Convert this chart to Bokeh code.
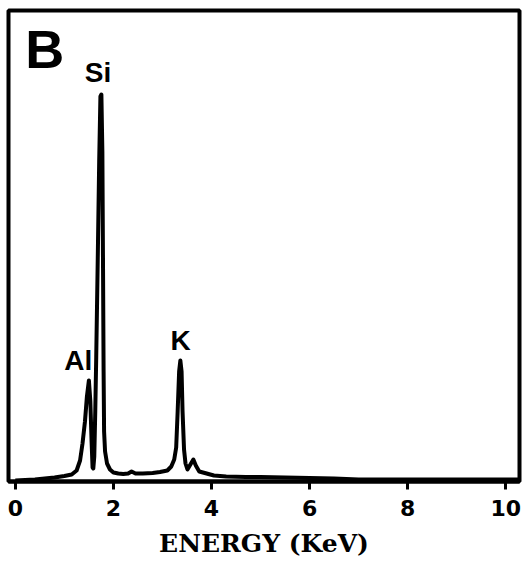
from bokeh.plotting import figure
from bokeh.models import FixedTicker, Range1d
from bokeh.core.properties import value
from bokeh.embed import file_html
from bokeh.resources import INLINE

# EDS spectrum (energy in keV, counts in arbitrary units)
energy = [0.00, 0.20, 0.40, 0.60, 0.80, 1.00, 1.15, 1.25, 1.32, 1.37, 1.42, 1.46,
          1.50, 1.53, 1.555, 1.575, 1.59, 1.61, 1.63, 1.65, 1.68, 1.71, 1.735,
          1.755, 1.775, 1.79, 1.80, 1.81, 1.83, 1.87, 1.93, 2.00, 2.10, 2.20,
          2.30, 2.37, 2.45, 2.60, 2.80, 2.95, 3.10, 3.18, 3.24, 3.28, 3.31,
          3.34, 3.365, 3.39, 3.41, 3.44, 3.47, 3.51, 3.57, 3.63, 3.68, 3.75,
          3.90, 4.05, 4.30, 4.70, 5.00, 5.50, 6.00, 6.50, 7.00, 7.50, 8.00,
          9.00, 10.00, 10.28]
counts = [1, 1.5, 2, 3, 4, 5.5, 7, 11, 21, 38, 60, 85,
          101, 80, 40, 14, 13, 25, 70, 125, 220, 320, 385,
          387, 330, 200, 110, 50, 30, 18, 12, 9, 8, 7.5,
          8, 10, 8, 8, 8.5, 9.5, 11, 15, 22, 34, 70,
          110, 121, 110, 70, 32, 18, 12, 17, 22, 16, 10,
          8, 6, 5, 4.5, 4.5, 4, 3.5, 3, 2, 2, 2,
          2, 2, 2]

# Peak labels
peak_names = ["Si", "Al", "K"]
peak_x = [1.686, 1.284, 3.368]
peak_y = [409, 121, 141]

panel_letter = ["B"]
tick_values = [0, 2, 4, 6, 8, 10]
x_title = "ENERGY (KeV)"

p = figure(width=522, height=561, output_backend="svg", toolbar_location=None,
           x_range=Range1d(-0.139, 10.28), y_range=Range1d(0, 471),
           min_border_left=8, min_border_right=3, min_border_top=10,
           min_border_bottom=80)

p.line(energy, counts, line_color="black", line_width=4, line_join="round")

p.text(x=peak_x, y=peak_y, text=peak_names, text_font=value("Liberation Sans"),
       text_font_style="bold", text_font_size="28px", text_align="center",
       text_baseline="alphabetic", text_color="black")
p.text(x=[0.20], y=[433], text=panel_letter, text_font=value("Liberation Sans"),
       text_font_style="bold", text_font_size="54px", text_align="left",
       text_baseline="alphabetic", text_color="black")

p.xgrid.visible = False
p.ygrid.visible = False
p.yaxis.visible = False
p.outline_line_color = "black"
p.outline_line_width = 4

ax = p.xaxis[0]
ax.ticker = FixedTicker(ticks=tick_values, minor_ticks=[])
ax.axis_line_width = 4
ax.axis_line_color = "black"
ax.major_tick_in = 0
ax.major_tick_out = 8
ax.major_tick_line_width = 3
ax.minor_tick_line_color = None
ax.major_label_text_font = "DejaVu Sans"
ax.major_label_text_font_style = "bold"
ax.major_label_text_font_size = "22px"
ax.major_label_text_color = "black"
ax.major_label_standoff = 10
ax.axis_label = x_title
ax.axis_label_text_font = "DejaVu Serif"
ax.axis_label_text_font_style = "bold"
ax.axis_label_text_font_size = "25px"
ax.axis_label_text_color = "black"
ax.axis_label_standoff = 10

open("out.html", "w").write(file_html(p, INLINE))
